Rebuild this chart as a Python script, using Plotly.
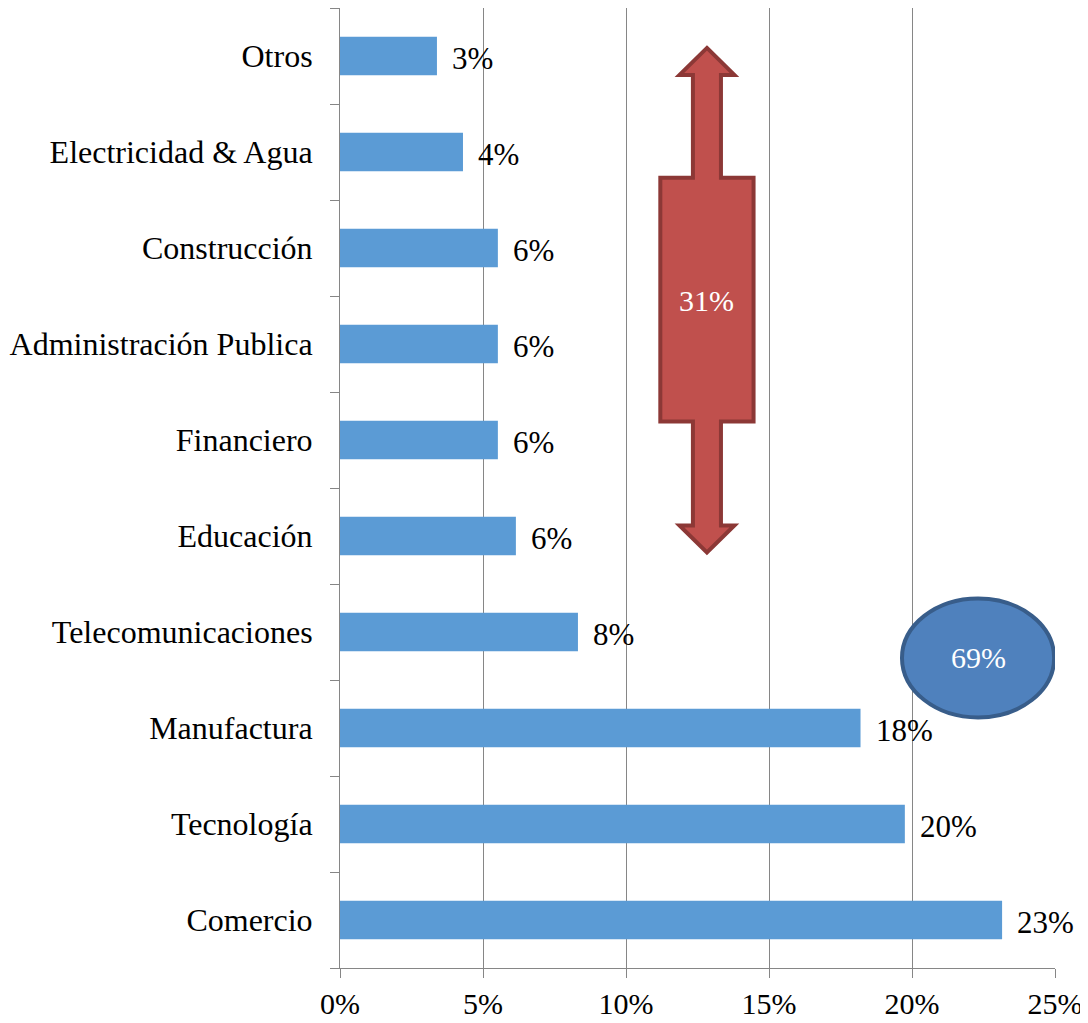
import plotly.graph_objects as go

# sectores de abajo hacia arriba
sectores = ['Comercio', 'Tecnología', 'Manufactura', 'Telecomunicaciones', 'Educación',
            'Financiero', 'Administración Publica', 'Construcción', 'Electricidad & Agua', 'Otros']
valores = [23.15, 19.75, 18.2, 8.32, 6.15, 5.52, 5.52, 5.52, 4.3, 3.39]
etiquetas = [f'{round(v)}%' for v in valores]

x_ticks = [0, 5, 10, 15, 20, 25]
x_ticktext = [f'{t}%' for t in x_ticks]

C_BAR = '#5B9BD5'
C_GRID = '#868686'
FONT = 'Liberation Serif, Times New Roman, serif'

fig = go.Figure()
fig.add_trace(go.Bar(
    y=sectores, x=valores, orientation='h',
    marker=dict(color=C_BAR, line=dict(width=0)),
    width=0.4, showlegend=False, hoverinfo='skip'
))

for s, v, t in zip(sectores, valores, etiquetas):
    fig.add_annotation(x=v, y=s, text=t, showarrow=False, xanchor='left', yanchor='middle',
                       xshift=13, yshift=-2, font=dict(size=31, color='black', family=FONT))

# flecha doble roja (31%)
cx, hw, sw, bw = 12.83, 0.96, 0.49, 1.63
yp = dict(top=0.9584, hb_top=0.9303, box_top=0.8231, box_bot=0.5692, hb_bot=0.4610, bot=0.4329)
path = (f"M {cx} {yp['top']} L {cx + hw} {yp['hb_top']} L {cx + sw} {yp['hb_top']} "
        f"L {cx + sw} {yp['box_top']} L {cx + bw} {yp['box_top']} "
        f"L {cx + bw} {yp['box_bot']} L {cx + sw} {yp['box_bot']} "
        f"L {cx + sw} {yp['hb_bot']} L {cx + hw} {yp['hb_bot']} L {cx} {yp['bot']} "
        f"L {cx - hw} {yp['hb_bot']} L {cx - sw} {yp['hb_bot']} "
        f"L {cx - sw} {yp['box_bot']} L {cx - bw} {yp['box_bot']} "
        f"L {cx - bw} {yp['box_top']} L {cx - sw} {yp['box_top']} "
        f"L {cx - sw} {yp['hb_top']} L {cx - hw} {yp['hb_top']} Z")
fig.add_shape(type='path', path=path, xref='x', yref='paper',
              fillcolor='#C0504D', line=dict(color='#8C3836', width=4))
fig.add_annotation(x=cx, y=0.695, xref='x', yref='paper', text='31%', showarrow=False,
                   xanchor='center', yanchor='middle',
                   font=dict(size=30, color='white', family=FONT))

# elipse azul (69%)
fig.add_shape(type='circle', xref='x', yref='paper', x0=19.65, x1=24.97, y0=0.261, y1=0.385,
              fillcolor='#4F81BD', line=dict(color='#385D8A', width=4))
fig.add_annotation(x=22.31, y=0.3236, xref='x', yref='paper', text='69%', showarrow=False,
                   xanchor='center', yanchor='middle',
                   font=dict(size=30, color='white', family=FONT))

fig.update_xaxes(range=[0, 25], tickvals=x_ticks, ticktext=x_ticktext,
                 showgrid=True, gridcolor=C_GRID, gridwidth=1,
                 showline=True, linecolor=C_GRID, linewidth=1,
                 ticks='outside', ticklen=9, tickcolor=C_GRID, zeroline=False,
                 tickfont=dict(size=30, color='black', family=FONT))
fig.update_yaxes(range=[-0.5, 9.5], showgrid=False,
                 showline=True, linecolor=C_GRID, linewidth=1,
                 ticks='outside', ticklen=9, tickcolor=C_GRID, tickson='boundaries',
                 ticklabelstandoff=20,
                 tickfont=dict(size=32, color='black', family=FONT))

fig.update_layout(
    width=1080, height=1015,
    margin=dict(l=332, r=33, t=0, b=55),
    plot_bgcolor='white', paper_bgcolor='white',
)

fig.write_html('out.html')
